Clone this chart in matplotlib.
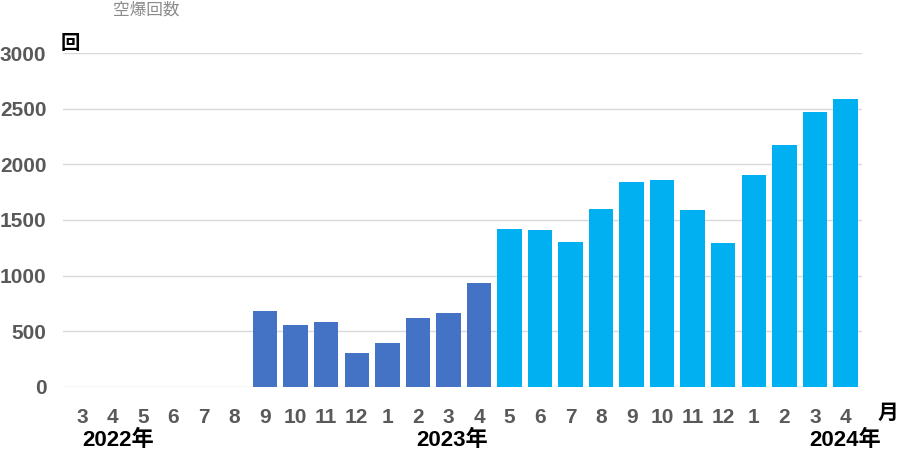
import numpy as np
import matplotlib.pyplot as plt

plt.rcParams["font.family"] = ["Liberation Sans", "Noto Sans CJK JP", "DejaVu Sans"]

# 2022年3月 ~ 2024年4月
months = ["3", "4", "5", "6", "7", "8", "9", "10", "11", "12", "1", "2", "3",
          "4", "5", "6", "7", "8", "9", "10", "11", "12", "1", "2", "3", "4"]
counts = [0, 0, 0, 0, 0, 0, 680, 560, 585, 305, 395, 620, 665,
          935, 1420, 1410, 1305, 1600, 1840, 1860, 1590, 1295, 1905, 2175, 2470, 2590]
# 2023年4月までは濃い青
n_dark = 14
years = ["2022年", "2023年", "2024年"]

colors = ["#4472C4" if i < n_dark else "#00B0F0" for i in range(len(counts))]
gray = "#595959"

fig = plt.figure(figsize=(9, 4.53), dpi=100)
ax = fig.add_axes([0.07, 0.146, 0.888, 0.737])

x = np.arange(len(counts))
ax.bar(x, counts, width=0.8, color=colors, zorder=3)

ax.set_xlim(-0.62, len(counts) - 0.45)
ax.set_ylim(0, 3000)
ax.set_yticks(range(0, 3001, 500))
ax.grid(axis="y", color="#D9D9D9", linewidth=1, zorder=0)
for s in ax.spines.values():
    s.set_visible(False)

ax.set_xticks(x)
ax.set_xticklabels(months)
ax.tick_params(axis="both", length=0, labelsize=15, labelcolor=gray)
ax.tick_params(axis="x", pad=15)
ax.tick_params(axis="y", pad=12)
for lab in ax.get_xticklabels() + ax.get_yticklabels():
    lab.set_fontweight("bold")

# 年ラベル
year_kw = dict(va="center", fontsize=16, fontweight="bold", color="black")
fig.text(82 / 900, 1 - 440 / 453, years[0], ha="left", **year_kw)
fig.text(488 / 900, 1 - 440 / 453, years[1], ha="right", **year_kw)
fig.text(881 / 900, 1 - 440 / 453, years[2], ha="right", **year_kw)

fig.text(888 / 900, 1 - 413 / 453, "月", ha="center", va="center",
         fontsize=15, fontweight="bold", color="black")
fig.text(70 / 900, 1 - 44 / 453, "回", ha="center", va="center", fontsize=14,
         fontweight="bold", color="black")
fig.text(146 / 900, 1 - 10 / 453, "空爆回数", ha="center", va="center",
         fontsize=12, color="#8C8C8C")

fig.savefig("out.png", dpi=100)
